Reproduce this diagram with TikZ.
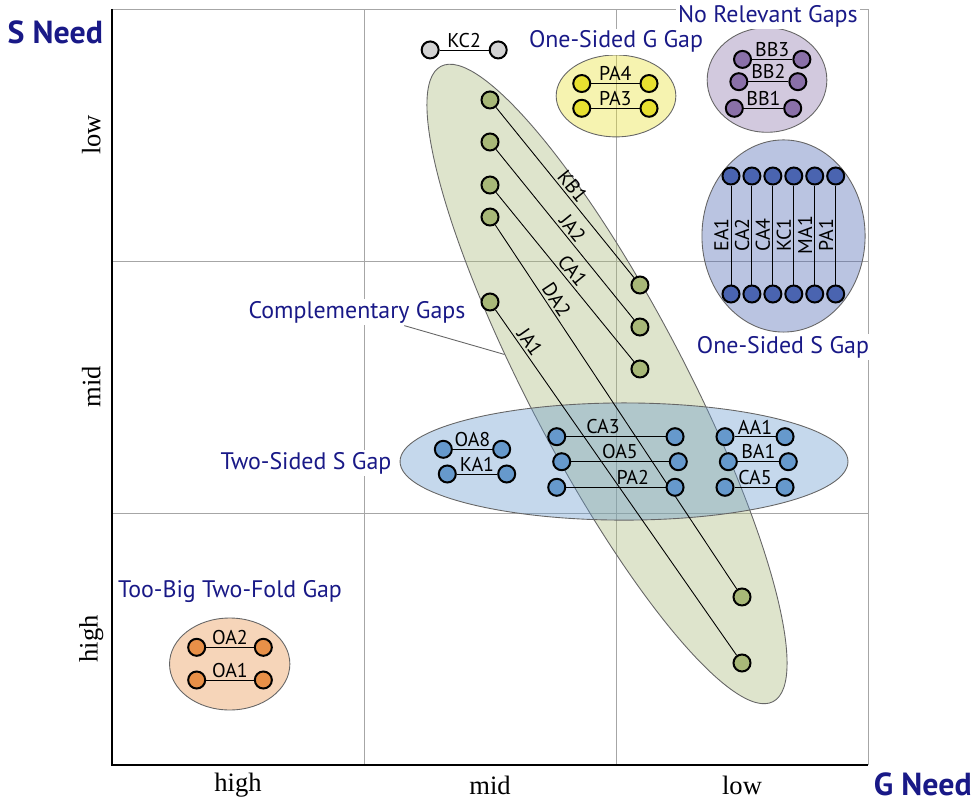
\documentclass[tikz,border=0pt]{standalone}
\usepackage{fontspec}
\setmainfont{Liberation Serif}
\setsansfont{PT Sans}
\usepackage{tikz}
\usetikzlibrary{shapes.geometric}

\definecolor{labelblue}{RGB}{25,25,135}
\definecolor{compgreen}{RGB}{168,184,120}
\definecolor{gyellow}{RGB}{232,224,48}
\definecolor{nopurple}{RGB}{138,112,168}
\definecolor{sblue}{RGB}{74,100,176}
\definecolor{twoblue}{RGB}{102,153,204}
\definecolor{bigorange}{RGB}{232,144,72}
\definecolor{lonegray}{RGB}{211,211,211}

\begin{document}
\begin{tikzpicture}[
gapset/.style={ellipse,draw=black!60,inner sep=0pt,fill opacity=0.38},
member/.style={circle,draw=black,line width=0.9pt,minimum size=0.27cm,inner sep=0pt},
tag/.style={font=\sffamily\small,inner sep=1pt},
gaplabel/.style={font=\sffamily\fontsize{10.8}{13}\selectfont,text=labelblue,fill=white,inner sep=1pt},
needlabel/.style={font=\sffamily\bfseries\Large,text=labelblue,inner sep=0.5pt}]

\useasboundingbox (-1.778,-0.556) rectangle (13.762,12.143);

% Grid and axes
\draw[black!35] (4,0) -- (4,12) (8,0) -- (8,12) (0,4) -- (12,4) (0,8) -- (12,8);
\draw[black!35] (0,12) -- (12,12) -- (12,0);
\draw[line width=1pt] (0,12) -- (0,0) -- (12,0);

\node at (2,-0.32) {\large high};
\node at (6,-0.32) {\large mid};
\node at (10,-0.32) {\large low};
\node[rotate=90] at (-0.33,2) {\large high};
\node[rotate=90] at (-0.33,6) {\large mid};
\node[rotate=90] at (-0.33,10) {\large low};
\node[needlabel] (sneed) at (-0.9,11.63) {S Need};
\node[needlabel] (gneed) at (12.87,-0.3) {G Need};

% Gap sets
\node[gapset,fill=compgreen,minimum width=11.38cm,minimum height=2.49cm,rotate=-62.4] (comp) at (7.857,6.048) {};
\node[gapset,fill=twoblue,minimum width=7.11cm,minimum height=1.86cm] (twosided) at (8.127,4.817) {};
\node[gapset,fill=gyellow,minimum width=1.9cm,minimum height=1.3cm] (gside) at (8.0,10.62) {};
\node[gapset,fill=nopurple,minimum width=1.9cm,minimum height=1.66cm] (norel) at (10.397,10.873) {};
\node[gapset,fill=sblue,minimum width=2.59cm,minimum height=3.05cm] (sside) at (10.659,8.397) {};
\node[gapset,fill=bigorange,minimum width=1.91cm,minimum height=1.46cm] (toobig) at (1.868,1.603) {};

% Outside of every set
\node[member,fill=lonegray] (kc2-l) at (5.05,11.35) {};
\node[member,fill=lonegray] (kc2-r) at (6.13,11.35) {};
\draw (kc2-l) -- node[tag,above]{KC2} (kc2-r);

% Complementary gaps
\node[member,fill=compgreen] (kb1-l) at (6.0,10.556) {};
\node[member,fill=compgreen] (ja2-l) at (6.0,9.889) {};
\node[member,fill=compgreen] (ca1-l) at (6.0,9.206) {};
\node[member,fill=compgreen] (da2-l) at (6.0,8.698) {};
\node[member,fill=compgreen] (ja1-l) at (6.0,7.349) {};
\node[member,fill=compgreen] (kb1-r) at (8.38,7.619) {};
\node[member,fill=compgreen] (ja2-r) at (8.38,6.952) {};
\node[member,fill=compgreen] (ca1-r) at (8.38,6.286) {};
\node[member,fill=compgreen] (da2-r) at (10.0,2.667) {};
\node[member,fill=compgreen] (ja1-r) at (10.0,1.619) {};
\draw (kb1-l) -- node[tag,sloped,above]{KB1} (kb1-r);
\draw (ja2-l) -- node[tag,sloped,above]{JA2} (ja2-r);
\draw (ca1-l) -- node[tag,sloped,above]{CA1} (ca1-r);
\draw (da2-l) -- node[tag,sloped,above,pos=0.22]{DA2} (da2-r);
\draw (ja1-l) -- node[tag,sloped,above,pos=0.11]{JA1} (ja1-r);

% One-sided G gap
\node[member,fill=gyellow] (pa4-l) at (7.456,10.817) {};
\node[member,fill=gyellow] (pa4-r) at (8.524,10.817) {};
\node[member,fill=gyellow] (pa3-l) at (7.456,10.424) {};
\node[member,fill=gyellow] (pa3-r) at (8.524,10.424) {};
\draw (pa4-l) -- node[tag,above]{PA4} (pa4-r);
\draw (pa3-l) -- node[tag,above]{PA3} (pa3-r);

% No relevant gaps
\node[member,fill=nopurple] (bb3-l) at (10.008,11.2) {};
\node[member,fill=nopurple] (bb3-r) at (10.95,11.2) {};
\node[member,fill=nopurple] (bb2-l) at (9.95,10.846) {};
\node[member,fill=nopurple] (bb2-r) at (10.886,10.846) {};
\node[member,fill=nopurple] (bb1-l) at (9.878,10.424) {};
\node[member,fill=nopurple] (bb1-r) at (10.805,10.424) {};
\draw (bb3-l) -- node[tag,above]{BB3} (bb3-r);
\draw (bb2-l) -- node[tag,above]{BB2} (bb2-r);
\draw (bb1-l) -- node[tag,above]{BB1} (bb1-r);

% One-sided S gap, drawn bottom to top
\foreach \name [count=\i from 0] in {EA1,CA2,CA4,KC1,MA1,PA1}{
	\node[member,fill=sblue] (\name-b) at (9.825+0.3324*\i,7.476) {};
	\node[member,fill=sblue] (\name-t) at (9.825+0.3324*\i,9.349) {};
	\draw (\name-b) -- node[tag,sloped,above]{\name} (\name-t);
}

% Two-sided S gap
\node[member,fill=twoblue] (oa8-l) at (5.259,5.011) {};
\node[member,fill=twoblue] (oa8-r) at (6.185,5.011) {};
\node[member,fill=twoblue] (ka1-l) at (5.322,4.619) {};
\node[member,fill=twoblue] (ka1-r) at (6.265,4.619) {};
\draw (oa8-l) -- node[tag,above]{OA8} (oa8-r);
\draw (ka1-l) -- node[tag,above]{KA1} (ka1-r);

\node[member,fill=twoblue] (ca3-l) at (7.059,5.211) {};
\node[member,fill=twoblue] (ca3-r) at (8.937,5.211) {};
\node[member,fill=twoblue] (oa5-l) at (7.138,4.814) {};
\node[member,fill=twoblue] (oa5-r) at (8.989,4.814) {};
\node[member,fill=twoblue] (pa2-l) at (7.059,4.408) {};
\node[member,fill=twoblue] (pa2-r) at (8.937,4.408) {};
\draw (ca3-l) -- node[tag,above,pos=0.37]{CA3} (ca3-r);
\draw (oa5-l) -- node[tag,above]{OA5} (oa5-r);
\draw (pa2-l) -- node[tag,above,pos=0.67]{PA2} (pa2-r);

\node[member,fill=twoblue] (aa1-l) at (9.73,5.211) {};
\node[member,fill=twoblue] (aa1-r) at (10.683,5.211) {};
\node[member,fill=twoblue] (ba1-l) at (9.783,4.814) {};
\node[member,fill=twoblue] (ba1-r) at (10.735,4.814) {};
\node[member,fill=twoblue] (ca5-l) at (9.73,4.408) {};
\node[member,fill=twoblue] (ca5-r) at (10.683,4.408) {};
\draw (aa1-l) -- node[tag,above]{AA1} (aa1-r);
\draw (ba1-l) -- node[tag,above]{BA1} (ba1-r);
\draw (ca5-l) -- node[tag,above]{CA5} (ca5-r);

% Too-big two-fold gap
\node[member,fill=bigorange] (oa2-l) at (1.344,1.868) {};
\node[member,fill=bigorange] (oa2-r) at (2.402,1.868) {};
\node[member,fill=bigorange] (oa1-l) at (1.344,1.349) {};
\node[member,fill=bigorange] (oa1-r) at (2.402,1.349) {};
\draw (oa2-l) -- node[tag,above]{OA2} (oa2-r);
\draw (oa1-l) -- node[tag,above]{OA1} (oa1-r);

% Set names
\node[gaplabel] (complabel) at (3.889,7.19) {Complementary Gaps};
\draw[black!60] (complabel) -- (comp);
\node[gaplabel] at (3.079,4.794) {Two-Sided S Gap};
\node[gaplabel] at (8.0,11.48) {One-Sided G Gap};
\node[gaplabel] at (10.41,11.89) {No Relevant Gaps};
\node[gaplabel] at (10.65,6.635) {One-Sided S Gap};
\node[gaplabel] at (1.873,2.746) {Too-Big Two-Fold Gap};

\end{tikzpicture}
\end{document}
